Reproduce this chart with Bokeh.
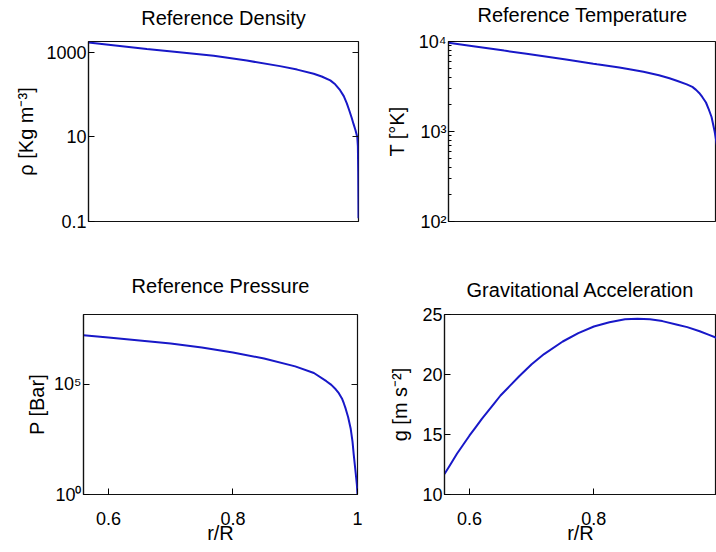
from bokeh.plotting import figure
from bokeh.layouts import column, row
from bokeh.models import (Range1d, FixedTicker, LinearAxis, LogAxis,
                          CustomJSTickFormatter)
from bokeh.embed import file_html
from bokeh.resources import INLINE

# ---------------- data ----------------
r_rho = [0.56, 0.60, 0.655, 0.70, 0.764, 0.818, 0.872, 0.90, 0.927, 0.94,
         0.954, 0.962, 0.970, 0.976, 0.981, 0.985, 0.989, 0.992, 0.995,
         0.998, 0.999, 0.9995, 1.0]
rho = [1710, 1470, 1190, 1030, 833, 637, 471, 390, 311, 268,
       217, 175, 127, 92, 62, 42, 28, 20, 14.6,
       10, 6, 1.5, 0.12]

r_T = [0.56, 0.60, 0.65, 0.686, 0.75, 0.794, 0.80, 0.836, 0.85, 0.875, 0.90,
       0.917, 0.93, 0.945, 0.954, 0.96, 0.965, 0.97, 0.976, 0.98, 0.985,
       0.99, 0.995]
T = [9700, 8870, 7920, 7310, 6300, 5670, 5590, 5150, 4960, 4620, 4220,
     3900, 3640, 3340, 3130, 2900, 2680, 2420, 2100, 1800, 1450,
     1000, 620]

r_P = [0.56, 0.60, 0.65, 0.70, 0.75, 0.80, 0.85, 0.90, 0.93, 0.95, 0.958,
       0.965, 0.97, 0.975, 0.978, 0.981, 0.985, 0.989, 0.992, 0.994, 0.997,
       0.999, 1.0]
P = [1.7e7, 1.35e7, 1.0e7, 7.2e6, 4.7e6, 2.8e6, 1.5e6, 6.6e5, 3.3e5, 1.4e5,
     9.5e4, 6.0e4, 4.0e4, 2.3e4, 1.4e4, 7.9e3, 3.2e3, 1.0e3, 250, 63, 10,
     2.8, 1]

r_g = [0.56, 0.57, 0.58, 0.59, 0.60, 0.61, 0.62, 0.63, 0.64, 0.65, 0.665,
       0.68, 0.70, 0.72, 0.75, 0.775, 0.80, 0.825, 0.85, 0.87, 0.89, 0.91,
       0.934, 0.95, 0.97, 0.985, 1.0]
g = [11.7, 12.55, 13.4, 14.15, 14.9, 15.6, 16.3, 16.95, 17.6, 18.25, 19.05,
     19.85, 20.85, 21.7, 22.75, 23.45, 24.0, 24.35, 24.6, 24.65, 24.6, 24.45,
     24.15, 23.95, 23.6, 23.3, 23.0]

x_ticks = [0.6, 0.8, 1.0]
x_tick_labels = {0.6: "0.6", 0.8: "0.8", 1.0: "1"}

rho_ticks = [0.1, 10, 1000]
rho_tick_labels = {0.1: "0.1", 10: "10", 1000: "1000"}
T_ticks = [100, 1000, 10000]
T_tick_labels = {100: "10\u00b2", 1000: "10\u00b3", 10000: "10\u2074"}
T_minor = [200, 300, 400, 500, 600, 700, 800, 900,
           2000, 3000, 4000, 5000, 6000, 7000, 8000, 9000]
P_ticks = [1, 1e5]
P_tick_labels = {1: "10\u2070", 1e5: "10\u2075"}
g_ticks = [10, 15, 20, 25]

FONT = "Liberation Sans"
LINE = "#1818c8"
DARK = "#111111"


def make(width, height, x_end, y_lo, y_hi, log, mbl, mbt, mbb, mbr,
         title, title_standoff, ylabel, yticks, ylabels, yminor, show_x,
         ylabel_standoff, right_ticks):
    p = figure(width=width, height=height,
               x_range=Range1d(0.56, x_end), y_range=Range1d(y_lo, y_hi),
               y_axis_type="log" if log else "linear",
               output_backend="svg", toolbar_location=None,
               min_border_left=mbl, min_border_top=mbt,
               min_border_bottom=mbb, min_border_right=mbr)
    p.grid.visible = False
    p.outline_line_color = DARK
    p.outline_line_width = 1.2
    p.background_fill_color = "white"
    p.border_fill_color = "white"

    xa = p.below[0]
    ya = p.left[0]

    # title drawn as the label of a tick-less axis above the frame
    ta = LinearAxis(ticker=FixedTicker(ticks=[]), axis_label=title,
                    axis_label_standoff=title_standoff, axis_line_color=None,
                    major_tick_in=0, major_tick_out=0,
                    minor_tick_in=0, minor_tick_out=0,
                    major_label_standoff=0)
    ta.axis_label_text_font = FONT
    ta.axis_label_text_font_size = "20px"
    ta.axis_label_text_font_style = "normal"
    ta.axis_label_text_color = "black"
    p.add_layout(ta, "above")

    ya.ticker = FixedTicker(ticks=yticks, minor_ticks=yminor)
    if ylabels:
        ya.major_label_overrides = ylabels
    ya.axis_label = ylabel
    ya.axis_label_text_font = FONT
    ya.axis_label_text_font_size = "20px"
    ya.axis_label_text_font_style = "normal"
    ya.axis_label_text_color = "black"
    ya.axis_label_standoff = ylabel_standoff
    ya.major_label_text_font = FONT
    ya.major_label_text_font_size = "18px"
    ya.major_label_text_color = "black"
    ya.major_label_standoff = 2
    ya.major_tick_in = 6
    ya.major_tick_out = 0
    ya.minor_tick_in = 3
    ya.minor_tick_out = 0
    ya.axis_line_color = DARK
    ya.axis_line_width = 1.2

    if right_ticks:
        AxisCls = LogAxis if log else LinearAxis
        ra = AxisCls(ticker=FixedTicker(ticks=yticks),
                     formatter=CustomJSTickFormatter(code="return ''"),
                     axis_line_color=None, major_tick_in=6, major_tick_out=0,
                     minor_tick_in=0, minor_tick_out=0,
                     major_tick_line_color=DARK, major_label_standoff=0)
        p.add_layout(ra, "right")

    if show_x:
        xa.ticker = FixedTicker(ticks=x_ticks)
        xa.major_label_overrides = x_tick_labels
        xa.axis_label = "r/R"
        xa.axis_label_text_font = FONT
        xa.axis_label_text_font_size = "20px"
        xa.axis_label_text_font_style = "normal"
        xa.axis_label_text_color = "black"
        xa.axis_label_standoff = -6
        xa.major_label_text_font = FONT
        xa.major_label_text_font_size = "18px"
        xa.major_label_text_color = "black"
        xa.major_label_standoff = 17
        xa.major_tick_in = 6
        xa.major_tick_out = 0
        xa.minor_tick_in = 0
        xa.minor_tick_out = 0
        xa.axis_line_color = DARK
        xa.axis_line_width = 1.2
    else:
        xa.visible = False
    return p


tl = make(370, 258, 1.0, 0.1, 1800, True, 88, 37, 37, 12,
          "Reference Density", 13, "\u03c1 [Kg m\u207b\u00b3]",
          rho_ticks, rho_tick_labels, [], False, 6, True)
tl.line(r_rho, rho, line_color=LINE, line_width=2)

tr = make(346, 258, 0.993, 100, 10000, True, 78, 41, 36, 0,
          "Reference Temperature", 16, "T [\u00b0K]",
          T_ticks, T_tick_labels, T_minor, False, 8, False)
tr.line(r_T, T, line_color=LINE, line_width=2)

bl = make(370, 294, 1.0, 1, 1.5e8, True, 83, 53, 58, 13,
          "Reference Pressure", 18, "P [Bar]",
          P_ticks, P_tick_labels, [], True, 3, True)
bl.line(r_P, P, line_color=LINE, line_width=2)

br = make(346, 294, 0.997, 10, 25, False, 74, 56, 54, 0,
          "Gravitational Acceleration", 14, "g [m s\u207b\u00b2]",
          g_ticks, None, [], True, 8, False)
br.line(r_g, g, line_color=LINE, line_width=2)

layout = column(row(tl, tr), row(bl, br))

open("out.html", "w").write(file_html(layout, INLINE))
